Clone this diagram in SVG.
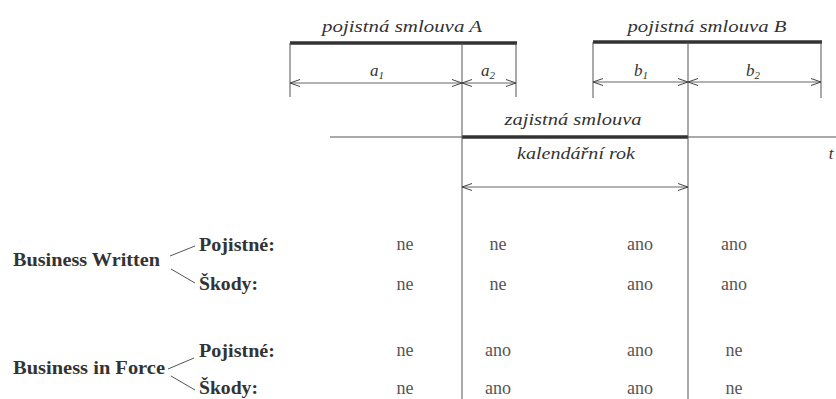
<svg xmlns="http://www.w3.org/2000/svg" width="836" height="399" viewBox="0 0 836 399">
<defs>
<marker id="ah" viewBox="0 0 10 10" refX="10" refY="5" markerWidth="10" markerHeight="10" markerUnits="userSpaceOnUse" orient="auto-start-reverse">
<path d="M0,1.5 L10,5 L0,8.5" fill="none" stroke="#444" stroke-width="1"/>
</marker>
<style>
.thin{stroke:#555;stroke-width:1;fill:none}
.thick{stroke:#333;stroke-width:3.5;fill:none}
.dim{stroke:#666;stroke-width:1;fill:none;marker-start:url(#ah);marker-end:url(#ah)}
.it{font-family:"Liberation Serif",serif;font-style:italic;font-size:17px;fill:#333;text-anchor:middle}
.lbl{font-family:"Liberation Serif",serif;font-weight:bold;font-size:18.5px;fill:#333}
.val{font-family:"Liberation Serif",serif;font-size:18px;fill:#555;text-anchor:middle}
.sub{font-size:11px}
</style>
</defs>
<rect width="836" height="399" fill="#fff"/>
<g id="contract-A">
<line class="thick" x1="290" y1="43" x2="517" y2="43"/>
<line class="thin" x1="290" y1="43" x2="290" y2="97"/>
<line class="thin" x1="516" y1="43" x2="516" y2="97"/>
<text class="it" x="402" y="32" textLength="160" lengthAdjust="spacingAndGlyphs">pojistná  smlouva A</text>
<text class="it" x="377" y="76">a<tspan class="sub" dy="3">1</tspan></text>
<text class="it" x="488" y="76">a<tspan class="sub" dy="3">2</tspan></text>
</g>
<g id="contract-B">
<line class="thick" x1="593" y1="42" x2="822" y2="42"/>
<line class="thin" x1="593" y1="42" x2="593" y2="98"/>
<line class="thin" x1="821" y1="42" x2="821" y2="98"/>
<text class="it" x="707" y="32" textLength="159" lengthAdjust="spacingAndGlyphs">pojistná smlouva B</text>
<text class="it" x="641" y="76">b<tspan class="sub" dy="3">1</tspan></text>
<text class="it" x="753" y="76">b<tspan class="sub" dy="3">2</tspan></text>
</g>
<g id="reinsurance">
<line class="thin" x1="330" y1="137" x2="836" y2="137"/>
<line class="thick" x1="462" y1="137" x2="688" y2="137"/>
<text class="it" x="573" y="125" textLength="137" lengthAdjust="spacingAndGlyphs">zajistná smlouva</text>
<text class="it" x="576" y="159" textLength="118" lengthAdjust="spacingAndGlyphs">kalendářní rok</text>
<text class="it" x="831" y="159">t</text>
</g>
<g id="connectors">
<line class="thin" x1="462" y1="43" x2="462" y2="399"/>
<line class="thin" x1="688" y1="42" x2="688" y2="399"/>
<line class="dim" x1="290" y1="83" x2="462" y2="83"/>
<line class="dim" x1="462" y1="83" x2="516" y2="83"/>
<line class="dim" x1="593" y1="82" x2="688" y2="82"/>
<line class="dim" x1="688" y1="82" x2="821" y2="82"/>
<line class="dim" x1="462" y1="187" x2="688" y2="187"/>
<line class="thin" x1="170" y1="256" x2="195" y2="246"/>
<line class="thin" x1="171" y1="269" x2="195" y2="283"/>
<line class="thin" x1="168" y1="369" x2="194" y2="358"/>
<line class="thin" x1="171" y1="376" x2="195" y2="390"/>
</g>
<g id="business-written">
<text class="lbl" x="13" y="266" textLength="147" lengthAdjust="spacingAndGlyphs">Business Written</text>
<text class="lbl" x="199" y="251" textLength="76" lengthAdjust="spacingAndGlyphs">Pojistné:</text>
<text class="lbl" x="199" y="290" textLength="59" lengthAdjust="spacingAndGlyphs">Škody:</text>
<text class="val" x="405" y="250">ne</text>
<text class="val" x="498" y="250">ne</text>
<text class="val" x="640" y="250">ano</text>
<text class="val" x="734" y="250">ano</text>
<text class="val" x="405" y="290">ne</text>
<text class="val" x="498" y="290">ne</text>
<text class="val" x="640" y="290">ano</text>
<text class="val" x="734" y="290">ano</text>
</g>
<g id="business-in-force">
<text class="lbl" x="13" y="374" textLength="152" lengthAdjust="spacingAndGlyphs">Business in Force</text>
<text class="lbl" x="199" y="357" textLength="76" lengthAdjust="spacingAndGlyphs">Pojistné:</text>
<text class="lbl" x="199" y="394" textLength="59" lengthAdjust="spacingAndGlyphs">Škody:</text>
<text class="val" x="405" y="356">ne</text>
<text class="val" x="498" y="356">ano</text>
<text class="val" x="640" y="356">ano</text>
<text class="val" x="734" y="356">ne</text>
<text class="val" x="405" y="394">ne</text>
<text class="val" x="498" y="394">ano</text>
<text class="val" x="640" y="394">ano</text>
<text class="val" x="734" y="394">ne</text>
</g>
</svg>
